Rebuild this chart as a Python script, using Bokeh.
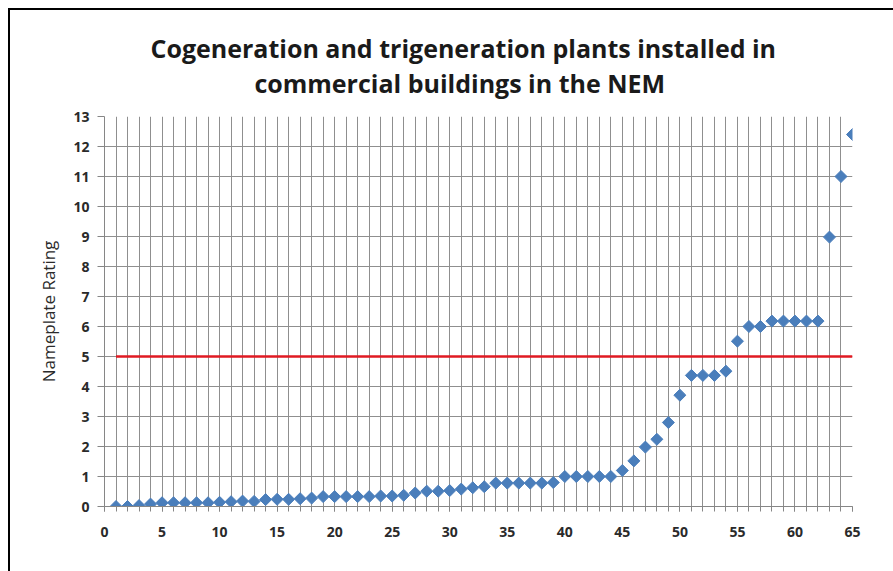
from bokeh.plotting import figure
from bokeh.models import SingleIntervalTicker, Title, Range1d
from bokeh.embed import file_html
from bokeh.resources import INLINE
import math

# ---- data ----
plant_index = list(range(1, 66))
nameplate_rating = [
    0.0, 0.0, 0.03, 0.08, 0.125, 0.125, 0.125, 0.125, 0.125, 0.14,
    0.16, 0.18, 0.17, 0.23, 0.24, 0.24, 0.26, 0.28, 0.33, 0.33,
    0.33, 0.33, 0.33, 0.35, 0.35, 0.375, 0.45, 0.51, 0.51, 0.53,
    0.58, 0.625, 0.66, 0.78, 0.78, 0.78, 0.78, 0.78, 0.8, 1.0,
    1.0, 1.0, 1.0, 1.0, 1.2, 1.52, 1.98, 2.24, 2.8, 3.71,
    4.37, 4.37, 4.37, 4.51, 5.51, 6.0, 6.0, 6.18, 6.18, 6.18,
    6.18, 6.18, 8.98, 11.0, 12.4,
]
threshold_x = [1, 65]
threshold_y = [5, 5]
title_lines = ["Cogeneration and trigeneration plants installed in",
               "commercial buildings in the NEM"]
y_label = "Nameplate Rating"

FONT = "Open Sans"

p = figure(width=890, height=565, output_backend="svg", toolbar_location=None,
           x_range=Range1d(0, 65), y_range=Range1d(0, 13),
           min_border_left=94, min_border_right=48, min_border_top=106,
           min_border_bottom=69)
p.styles = {"margin-left": "8px", "margin-top": "8px",
            "border-top": "2px solid #000", "border-left": "2px solid #000"}
p.outline_line_color = None
p.background_fill_color = "white"
p.border_fill_color = "white"

# two-line title, second line centred under the first
pad = "\u00a0" * 16
title = Title(text=title_lines[0] + "\n" + pad + title_lines[1],
              align="left", offset=46, standoff=33,
              text_font=FONT, text_font_size="25px", text_font_style="bold",
              text_color="#1a1a1a", text_line_height=1.03)
p.add_layout(title, "above")

# grids
p.xgrid.ticker = SingleIntervalTicker(interval=1)
p.ygrid.ticker = SingleIntervalTicker(interval=1)
for g in (p.xgrid, p.ygrid):
    g.grid_line_color = "#8f8f8f"
    g.grid_line_width = 1

# axes
p.xaxis.ticker = SingleIntervalTicker(interval=5, num_minor_ticks=5)
p.yaxis.ticker = SingleIntervalTicker(interval=1)
for ax in (p.xaxis, p.yaxis):
    ax.axis_line_color = "#868686"
    ax.major_tick_line_color = "#868686"
    ax.minor_tick_line_color = "#868686"
    ax.major_tick_in = 0
    ax.minor_tick_in = 0
    ax.major_label_text_font = FONT
    ax.major_label_text_font_size = "14px"
    ax.major_label_text_font_style = "bold"
    ax.major_label_text_color = "#2a2a2a"
p.xaxis.major_tick_out = 5
p.xaxis.minor_tick_out = 5
p.xaxis.major_label_standoff = 15
p.yaxis.major_tick_out = 7
p.yaxis.minor_tick_out = 0
p.yaxis.major_label_standoff = 8

p.yaxis.axis_label = y_label
p.yaxis.axis_label_text_font = FONT
p.yaxis.axis_label_text_font_size = "17px"
p.yaxis.axis_label_text_font_style = "normal"
p.yaxis.axis_label_text_color = "#2a2a2a"
p.yaxis.axis_label_standoff = 10

# threshold line
p.line(threshold_x, threshold_y, line_color="#e01a22", line_width=2.6)

# data points (Excel-like diamonds)
p.scatter(plant_index, nameplate_rating, marker="square", size=8.5,
          angle=math.pi / 4, fill_color="#4a7ebb", line_color="#4a7ebb",
          line_width=1)

html = file_html(p, INLINE)
html = html.replace("</head>",
                    "<style>html, body { margin: 0; overflow: hidden; }</style></head>", 1)
open("out.html", "w").write(html)
